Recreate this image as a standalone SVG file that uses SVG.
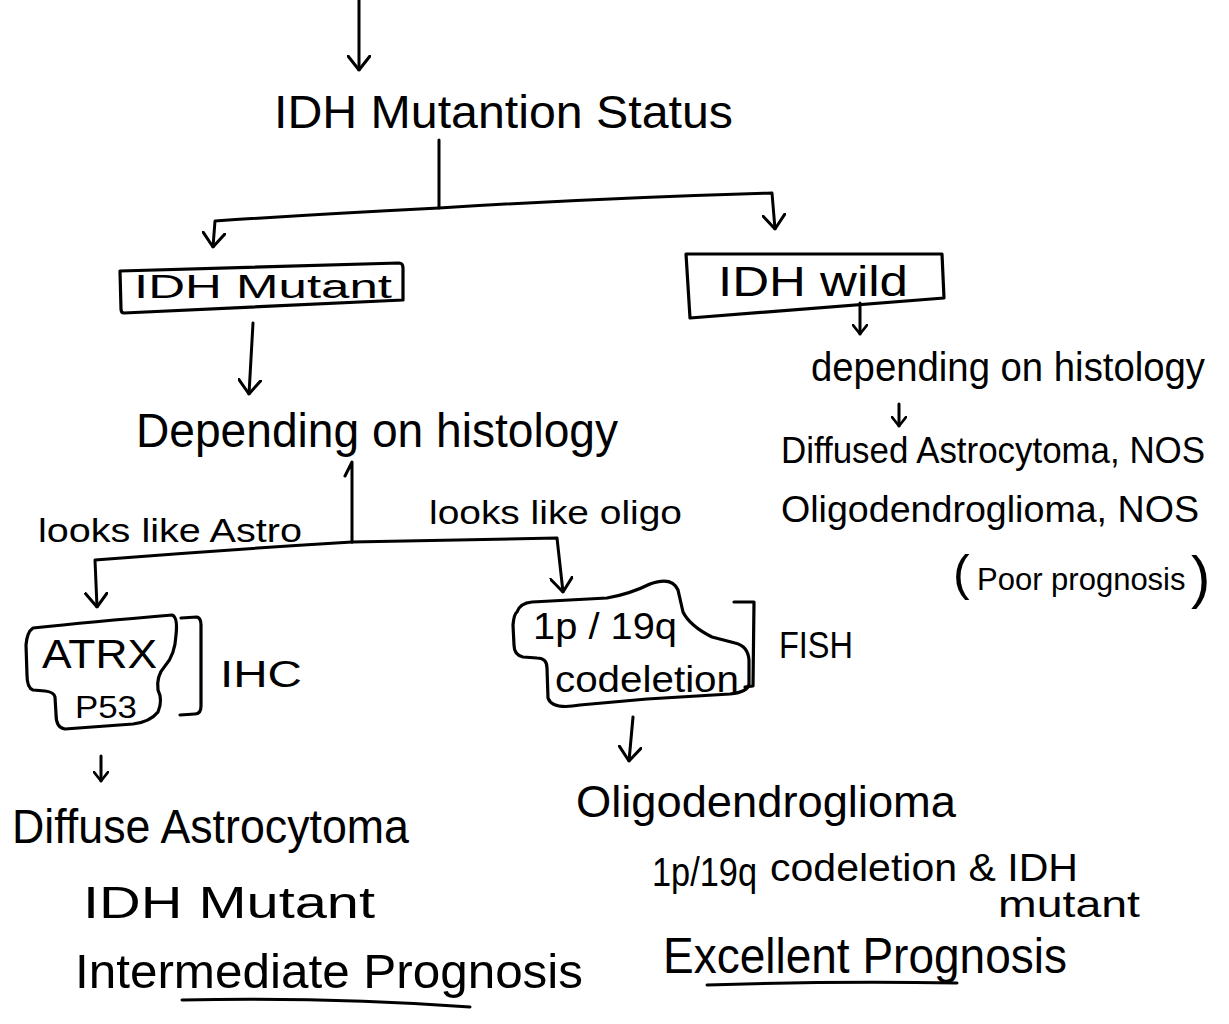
<svg xmlns="http://www.w3.org/2000/svg" width="1229" height="1024" viewBox="0 0 1229 1024">
  <defs>
    <style>
      text { font-family: "Liberation Sans", Arial, sans-serif; fill: #000; }
      .ln { fill: none; stroke: #000; stroke-width: 3; stroke-linecap: round; stroke-linejoin: round; }
      .shape { fill: none; stroke: #000; stroke-width: 3.2; stroke-linecap: round; stroke-linejoin: round; }
    </style>
    <marker id="arr" viewBox="0 0 16 24" refX="15" refY="12" markerWidth="16" markerHeight="24" markerUnits="userSpaceOnUse" orient="auto">
      <path d="M1,1 L15,12 L1,23" fill="none" stroke="#000" stroke-width="3" stroke-linecap="round" stroke-linejoin="round"/>
    </marker>
    <marker id="arrS" viewBox="0 0 16 24" refX="15" refY="12" markerWidth="11" markerHeight="16" markerUnits="userSpaceOnUse" orient="auto">
      <path d="M1,1 L15,12 L1,23" fill="none" stroke="#000" stroke-width="4" stroke-linecap="round" stroke-linejoin="round"/>
    </marker>
  </defs>

  <rect width="1229" height="1024" fill="#fff"/>

  <!-- connectors -->
  <g id="connectors">
    <path class="ln" d="M359,0 L359,70" marker-end="url(#arr)"/>
    <path class="ln" d="M439,140 L439,207"/>
    <path class="ln" d="M439,208 Q320,214 215,221 L213,247" marker-end="url(#arr)"/>
    <path class="ln" d="M439,208 Q600,198 772,193 L775,229" marker-end="url(#arr)"/>
    <path class="ln" d="M253,323 L249,394" marker-end="url(#arr)"/>
    <path class="ln" d="M860,303 L860,334" marker-end="url(#arrS)"/>
    <path class="ln" d="M899,404 L899,426" marker-end="url(#arrS)"/>
    <path class="ln" d="M345,476 L352,462 L352,542"/>
    <path class="ln" d="M352,542 Q220,550 95,560 L97,607" marker-end="url(#arr)"/>
    <path class="ln" d="M352,542 L557,538 L563,592" marker-end="url(#arr)"/>
    <path class="ln" d="M101,756 L101,781" marker-end="url(#arrS)"/>
    <path class="ln" d="M633,717 L629,761" marker-end="url(#arr)"/>
  </g>

  <!-- root -->
  <g id="idh-status">
    <text x="274" y="128" font-size="46" textLength="459" lengthAdjust="spacingAndGlyphs">IDH Mutantion Status</text>
  </g>

  <!-- IDH mutant branch -->
  <g id="idh-mutant">
    <path class="shape" d="M120,271 L399,263 Q403,263 403,268 L403,300 L124,313 Q121,313 121,309 Z"/>
    <text x="134" y="298" font-size="33" textLength="258" lengthAdjust="spacingAndGlyphs">IDH Mutant</text>
  </g>

  <g id="depending-mutant">
    <text x="136" y="447" font-size="48" textLength="482" lengthAdjust="spacingAndGlyphs">Depending on histology</text>
  </g>

  <g id="label-astro">
    <text x="38" y="542" font-size="33" textLength="264" lengthAdjust="spacingAndGlyphs">looks like Astro</text>
  </g>

  <g id="label-oligo">
    <text x="429" y="524" font-size="34" textLength="253" lengthAdjust="spacingAndGlyphs">looks like oligo</text>
  </g>

  <g id="atrx-p53">
    <path class="shape" d="M33,628 Q90,622 172,615 Q178,617 176,635 Q175,655 165,666 Q156,676 158,690 Q163,700 158,712 Q150,722 133,724 L65,729 Q56,728 56,714 L55,697 Q54,692 45,691 L33,690 Q27,688 27,675 L26,645 Q27,632 33,628 Z"/>
    <text x="42" y="668" font-size="40" textLength="115" lengthAdjust="spacingAndGlyphs">ATRX</text>
    <text x="75" y="718" font-size="32" textLength="62" lengthAdjust="spacingAndGlyphs">P53</text>
    <path class="shape" d="M181,618 L197,617 Q201,618 201,625 L201,706 Q201,714 195,714 L180,715"/>
    <text x="220" y="687" font-size="36" textLength="82" lengthAdjust="spacingAndGlyphs">IHC</text>
  </g>

  <g id="codeletion">
    <path class="shape" d="M517,612 Q520,603 532,602 L607,598 Q630,594 650,584 Q672,576 678,590 L683,612 Q690,626 712,637 L735,643 Q748,646 749,660 L749,684 Q748,692 730,694 L647,699 L580,705 Q552,710 548,698 L547,668 Q547,658 537,658 L523,657 Q514,655 514,645 L513,625 Q514,614 517,612 Z"/>
    <text x="533" y="639" font-size="36" textLength="144" lengthAdjust="spacingAndGlyphs">1p / 19q</text>
    <text x="555" y="692" font-size="36" textLength="184" lengthAdjust="spacingAndGlyphs">codeletion</text>
    <path class="shape" d="M734,602 L754,602 L753,686 L745,687"/>
    <text x="779" y="658" font-size="36" textLength="74" lengthAdjust="spacingAndGlyphs">FISH</text>
  </g>

  <g id="astro-result">
    <text x="12" y="843" font-size="48" textLength="397" lengthAdjust="spacingAndGlyphs">Diffuse Astrocytoma</text>
    <text x="83" y="918" font-size="44" textLength="292" lengthAdjust="spacingAndGlyphs">IDH Mutant</text>
    <text x="75" y="988" font-size="48" textLength="508" lengthAdjust="spacingAndGlyphs">Intermediate Prognosis</text>
    <path class="ln" d="M182,1000 Q330,997 470,1007"/>
  </g>

  <g id="oligo-result">
    <text x="576" y="817" font-size="44" textLength="380" lengthAdjust="spacingAndGlyphs">Oligodendroglioma</text>
    <text y="886" font-size="40"><tspan x="652" textLength="105" lengthAdjust="spacingAndGlyphs">1p/19q</tspan><tspan x="770" y="881" font-size="38" textLength="308" lengthAdjust="spacingAndGlyphs">codeletion &amp; IDH</tspan></text>
    <text x="998" y="917" font-size="36" textLength="142" lengthAdjust="spacingAndGlyphs">mutant</text>
    <text x="663" y="973" font-size="50" textLength="404" lengthAdjust="spacingAndGlyphs">Excellent Prognosis</text>
    <path class="ln" d="M707,985 Q830,981 957,983"/>
  </g>

  <!-- IDH wild-type branch -->
  <g id="idh-wild">
    <path class="shape" d="M686,254 L942,254 L944,298 L690,318 Z"/>
    <text x="718" y="296" font-size="42" textLength="190" lengthAdjust="spacingAndGlyphs">IDH wild</text>
  </g>

  <g id="wild-result">
    <text x="811" y="381" font-size="40" textLength="394" lengthAdjust="spacingAndGlyphs">depending on histology</text>
    <text x="781" y="463" font-size="37" textLength="424" lengthAdjust="spacingAndGlyphs">Diffused Astrocytoma, NOS</text>
    <text x="781" y="522" font-size="37" textLength="418" lengthAdjust="spacingAndGlyphs">Oligodendroglioma, NOS</text>
    <text y="587" font-size="31"><tspan x="953" y="590" font-size="50">(</tspan><tspan x="977">Poor prognosis</tspan><tspan x="1191" y="597" font-size="58">)</tspan></text>
  </g>
</svg>
